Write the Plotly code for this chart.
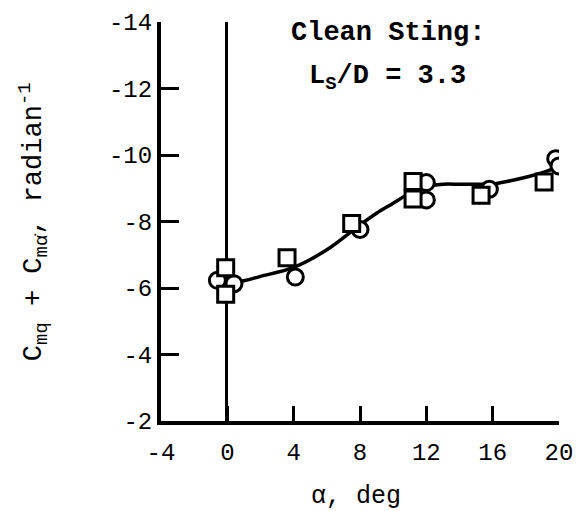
import plotly.graph_objects as go

# Data
circle_alpha = [-0.6, 0.4, 4.1, 8.0, 12.0, 12.0, 15.8, 19.8, 20.0]
circle_cm = [-6.23, -6.13, -6.33, -7.76, -9.17, -8.65, -8.97, -9.89, -9.67]

square_alpha = [-0.1, -0.1, 3.6, 7.5, 11.2, 11.2, 15.3, 19.1]
square_cm = [-6.61, -5.81, -6.91, -7.94, -9.2, -8.68, -8.79, -9.19]

fair_alpha = [-0.3, 1, 2, 4, 6, 8, 9, 10, 11, 12, 13, 14, 15, 16, 17, 18, 19, 20]
fair_cm = [-6.1, -6.22, -6.35, -6.62, -7.15, -7.9, -8.25, -8.55, -8.85, -9.05,
           -9.12, -9.12, -9.12, -9.13, -9.22, -9.33, -9.47, -9.65]

sting_alpha = [-0.05, -0.05]
sting_cm = [-2, -14]

x_ticks = [-4, 0, 4, 8, 12, 16, 20]
y_ticks = [-14, -12, -10, -8, -6, -4, -2]

FONT = "Liberation Mono"

fig = go.Figure()
fig.add_trace(go.Scatter(x=sting_alpha, y=sting_cm, mode="lines",
                         line=dict(color="black", width=3), showlegend=False))
fig.add_trace(go.Scatter(x=fair_alpha, y=fair_cm, mode="lines",
                         line=dict(color="black", width=3.5, shape="spline", smoothing=1.0),
                         showlegend=False))
fig.add_trace(go.Scatter(x=circle_alpha, y=circle_cm, mode="markers",
                         marker=dict(symbol="circle", size=16, color="white",
                                     line=dict(color="black", width=3)),
                         showlegend=False))
fig.add_trace(go.Scatter(x=square_alpha, y=square_cm, mode="markers",
                         marker=dict(symbol="square", size=16, color="white",
                                     line=dict(color="black", width=3)),
                         showlegend=False))

fig.update_layout(
    width=581, height=511,
    margin=dict(l=161, r=22, t=22, b=90),
    paper_bgcolor="white", plot_bgcolor="white",
    font=dict(family=FONT, color="black", size=24),
    xaxis=dict(range=[-4, 20], tickvals=x_ticks, ticktext=[str(v) for v in x_ticks],
               ticks="inside", ticklen=15, tickwidth=3, tickcolor="black",
               showline=True, linewidth=4, linecolor="black", mirror=False,
               showgrid=False, zeroline=False, ticklabelstandoff=6, automargin=False,
               tickfont=dict(family=FONT, size=24)),
    yaxis=dict(range=[-2, -14], tickvals=y_ticks, ticktext=[str(v) for v in y_ticks],
               ticks="inside", ticklen=18, tickwidth=3, tickcolor="black",
               showline=True, linewidth=4, linecolor="black", mirror=False,
               showgrid=False, zeroline=False, automargin=False,
               tickfont=dict(family=FONT, size=24)),
    annotations=[
        dict(text="<b>Clean Sting:</b>", x=9.68, y=-13.66, xref="x", yref="y",
             showarrow=False, xanchor="center", yanchor="middle",
             font=dict(family=FONT, size=27, color="black")),
        dict(text="<b>L<sub>S</sub>/D = 3.3</b>", x=9.68, y=-12.33, xref="x", yref="y",
             showarrow=False, xanchor="center", yanchor="middle",
             font=dict(family=FONT, size=27, color="black")),
        dict(text="α, deg", x=0.49, y=-0.19, xref="paper", yref="paper",
             showarrow=False, xanchor="center", yanchor="middle",
             font=dict(family=FONT, size=25, color="black")),
        dict(text="C<sub>mq</sub> + C<sub>mα̇</sub>, radian<sup>-1</sup>",
             x=-0.32, y=0.5, xref="paper", yref="paper", textangle=-90,
             showarrow=False, xanchor="center", yanchor="middle",
             font=dict(family=FONT, size=27, color="black")),
    ],
)

fig.write_html("out.html")
